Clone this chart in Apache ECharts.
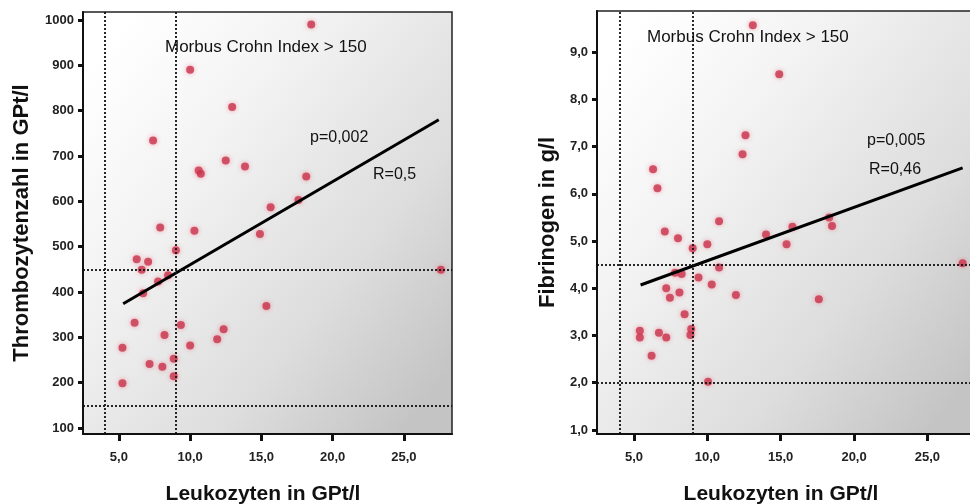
<!DOCTYPE html>
<html>
<head>
<meta charset="utf-8">
<script src="https://cdn.jsdelivr.net/npm/echarts@6/dist/echarts.min.js"></script>
<style>
html,body{margin:0;padding:0;background:#fff;overflow:hidden;}
#chart{width:980px;height:504px;}
</style>
</head>
<body>
<div id="chart"></div>
<script>
// ---- data ----
const xTitle = 'Leukozyten in GPt/l';
const leftYTitle = 'Thrombozytenzahl in GPt/l';
const rightYTitle = 'Fibrinogen in g/l';
const xTicks = [5, 10, 15, 20, 25];
const leftYTicks = [100, 200, 300, 400, 500, 600, 700, 800, 900, 1000];
const rightYTicks = [1, 2, 3, 4, 5, 6, 7, 8, 9];

const leftX = [18.5, 10.0, 12.95, 7.4, 12.5, 13.85, 10.6, 10.75, 18.15, 17.6, 15.65, 7.9, 10.3, 14.9, 9.0, 6.25, 7.05, 6.6, 7.75, 8.45, 6.7, 27.6, 15.35, 6.1, 9.35, 12.35, 8.2, 11.9, 5.25, 10.0, 8.85, 7.15, 8.05, 8.85, 5.25];
const leftY = [990, 890, 808, 734, 690, 677, 668, 661, 655, 603, 587, 542, 535, 528, 492, 472, 467, 449, 423, 437, 397, 449, 369, 332, 327, 318, 305, 296, 277, 282, 253, 241, 235, 214, 199];

const rightX = [13.1, 14.9, 12.6, 12.4, 6.3, 6.6, 7.1, 8.0, 9.0, 10.0, 10.8, 14.0, 15.4, 15.8, 18.3, 18.5, 27.4, 7.8, 8.25, 9.4, 10.8, 10.3, 7.2, 7.45, 8.1, 11.95, 17.6, 8.45, 5.4, 5.4, 6.7, 7.2, 8.9, 8.85, 6.2, 10.05];
const rightY = [9.57, 8.53, 7.24, 6.84, 6.52, 6.12, 5.2, 5.06, 4.85, 4.93, 5.42, 5.14, 4.93, 5.3, 5.5, 5.32, 4.53, 4.33, 4.3, 4.23, 4.44, 4.08, 4.0, 3.8, 3.91, 3.86, 3.77, 3.45, 3.1, 2.96, 3.06, 2.96, 3.14, 3.01, 2.57, 2.02];

const regLeftX = [5.3, 27.45];
const regLeftY = [374, 780];
const regRightX = [5.45, 27.4];
const regRightY = [4.07, 6.55];

const refLeftX = [4, 9];
const refLeftY = [150, 450];
const refRightX = [4, 9];
const refRightY = [2, 4.5];

const groupLabel = 'Morbus Crohn Index > 150';
const leftStats = ['p=0,002', 'R=0,5'];
const rightStats = ['p=0,005', 'R=0,46'];

// ---- chart ----
const zip = (a, b) => a.map((v, i) => [v, b[i]]);
const comma1 = v => v.toFixed(1).replace('.', ',');
const tickFont = "'Liberation Sans Narrow','Arial Narrow','Liberation Sans',Arial,sans-serif";
const bodyFont = "'Liberation Sans',Arial,sans-serif";

const bg = {
  type: 'linear', x: 0, y: 0.15, x2: 1, y2: 0.85,
  colorStops: [
    { offset: 0, color: '#ffffff' },
    { offset: 0.3, color: '#f3f3f3' },
    { offset: 0.7, color: '#dddddd' },
    { offset: 1, color: '#c4c4c4' }
  ]
};

function xAxisCfg(gridIndex, padRight) {
  return {
    type: 'value', gridIndex, min: 2.48, max: 28.38,
    name: xTitle, nameLocation: 'middle', nameGap: 50,
    nameTextStyle: { fontFamily: bodyFont, fontWeight: 'bold', fontSize: 21, color: '#111', padding: [0, padRight, 0, 0] },
    axisLine: { show: true, lineStyle: { color: '#111', width: 2 } },
    axisTick: { show: true, length: 7, lineStyle: { color: '#111', width: 3 }, customValues: xTicks },
    axisLabel: { customValues: xTicks, formatter: comma1, margin: 17, fontFamily: tickFont, fontWeight: 'bold', fontSize: 13, color: '#222' },
    splitLine: { show: false }
  };
}

function yAxisCfg(gridIndex, min, max, ticks, fmt, title, gap) {
  return {
    type: 'value', gridIndex, min, max,
    name: title, nameLocation: 'middle', nameGap: gap,
    nameTextStyle: { fontFamily: bodyFont, fontWeight: 'bold', fontSize: 22, color: '#111' },
    axisLine: { show: true, lineStyle: { color: '#111', width: 2 } },
    axisTick: { show: true, length: 5, lineStyle: { color: '#111', width: 3 }, customValues: ticks },
    axisLabel: { customValues: ticks, formatter: fmt, margin: 9, fontFamily: tickFont, fontWeight: 'bold', fontSize: 13, color: '#222' },
    splitLine: { show: false }
  };
}

function refLines(xs, ys) {
  return {
    silent: true, symbol: 'none', animation: false,
    label: { show: false },
    lineStyle: { color: '#111', type: [2, 2], width: 1.8 },
    data: xs.map(v => ({ xAxis: v })).concat(ys.map(v => ({ yAxis: v })))
  };
}

const pointStyle = {
  color: '#c8334c',
  shadowBlur: 5,
  shadowColor: 'rgba(235,90,110,0.7)'
};

const chart = echarts.init(document.getElementById('chart'), null, { renderer: 'canvas' });
chart.setOption({
  animation: false,
  backgroundColor: '#ffffff',
  grid: [
    { left: 83, right: 528, top: 12, bottom: 70, outerBoundsMode: 'none', containLabel: false, show: true, backgroundColor: bg, borderColor: '#222', borderWidth: 1.5 },
    { left: 597, right: 3, top: 11, bottom: 70, outerBoundsMode: 'none', containLabel: false, show: true, backgroundColor: bg, borderColor: '#222', borderWidth: 1.5 }
  ],
  xAxis: [xAxisCfg(0, 9), xAxisCfg(1, 12)],
  yAxis: [
    yAxisCfg(0, 86.8, 1017.6, leftYTicks, v => String(v), leftYTitle, 50),
    yAxisCfg(1, 0.915, 9.87, rightYTicks, comma1, rightYTitle, 38)
  ],
  series: [
    { type: 'scatter', xAxisIndex: 0, yAxisIndex: 0, symbolSize: 8, itemStyle: pointStyle, data: zip(leftX, leftY), markLine: refLines(refLeftX, refLeftY), z: 3 },
    { type: 'line', xAxisIndex: 0, yAxisIndex: 0, symbol: 'none', lineStyle: { color: '#000', width: 3 }, data: zip(regLeftX, regLeftY), z: 4 },
    { type: 'scatter', xAxisIndex: 1, yAxisIndex: 1, symbolSize: 8, itemStyle: pointStyle, data: zip(rightX, rightY), markLine: refLines(refRightX, refRightY), z: 3 },
    { type: 'line', xAxisIndex: 1, yAxisIndex: 1, symbol: 'none', lineStyle: { color: '#000', width: 3 }, data: zip(regRightX, regRightY), z: 4 }
  ],
  graphic: [
    { type: 'text', left: 165, top: 39, z: 10, style: { text: groupLabel, font: '17px ' + bodyFont, fill: '#111' } },
    { type: 'text', left: 310, top: 130, z: 10, style: { text: leftStats[0], font: '16px ' + bodyFont, fill: '#111' } },
    { type: 'text', left: 373, top: 167, z: 10, style: { text: leftStats[1], font: '16px ' + bodyFont, fill: '#111' } },
    { type: 'text', left: 647, top: 29, z: 10, style: { text: groupLabel, font: '17px ' + bodyFont, fill: '#111' } },
    { type: 'text', left: 867, top: 133, z: 10, style: { text: rightStats[0], font: '16px ' + bodyFont, fill: '#111' } },
    { type: 'text', left: 869, top: 162, z: 10, style: { text: rightStats[1], font: '16px ' + bodyFont, fill: '#111' } }
  ]
});
</script>
</body>
</html>
